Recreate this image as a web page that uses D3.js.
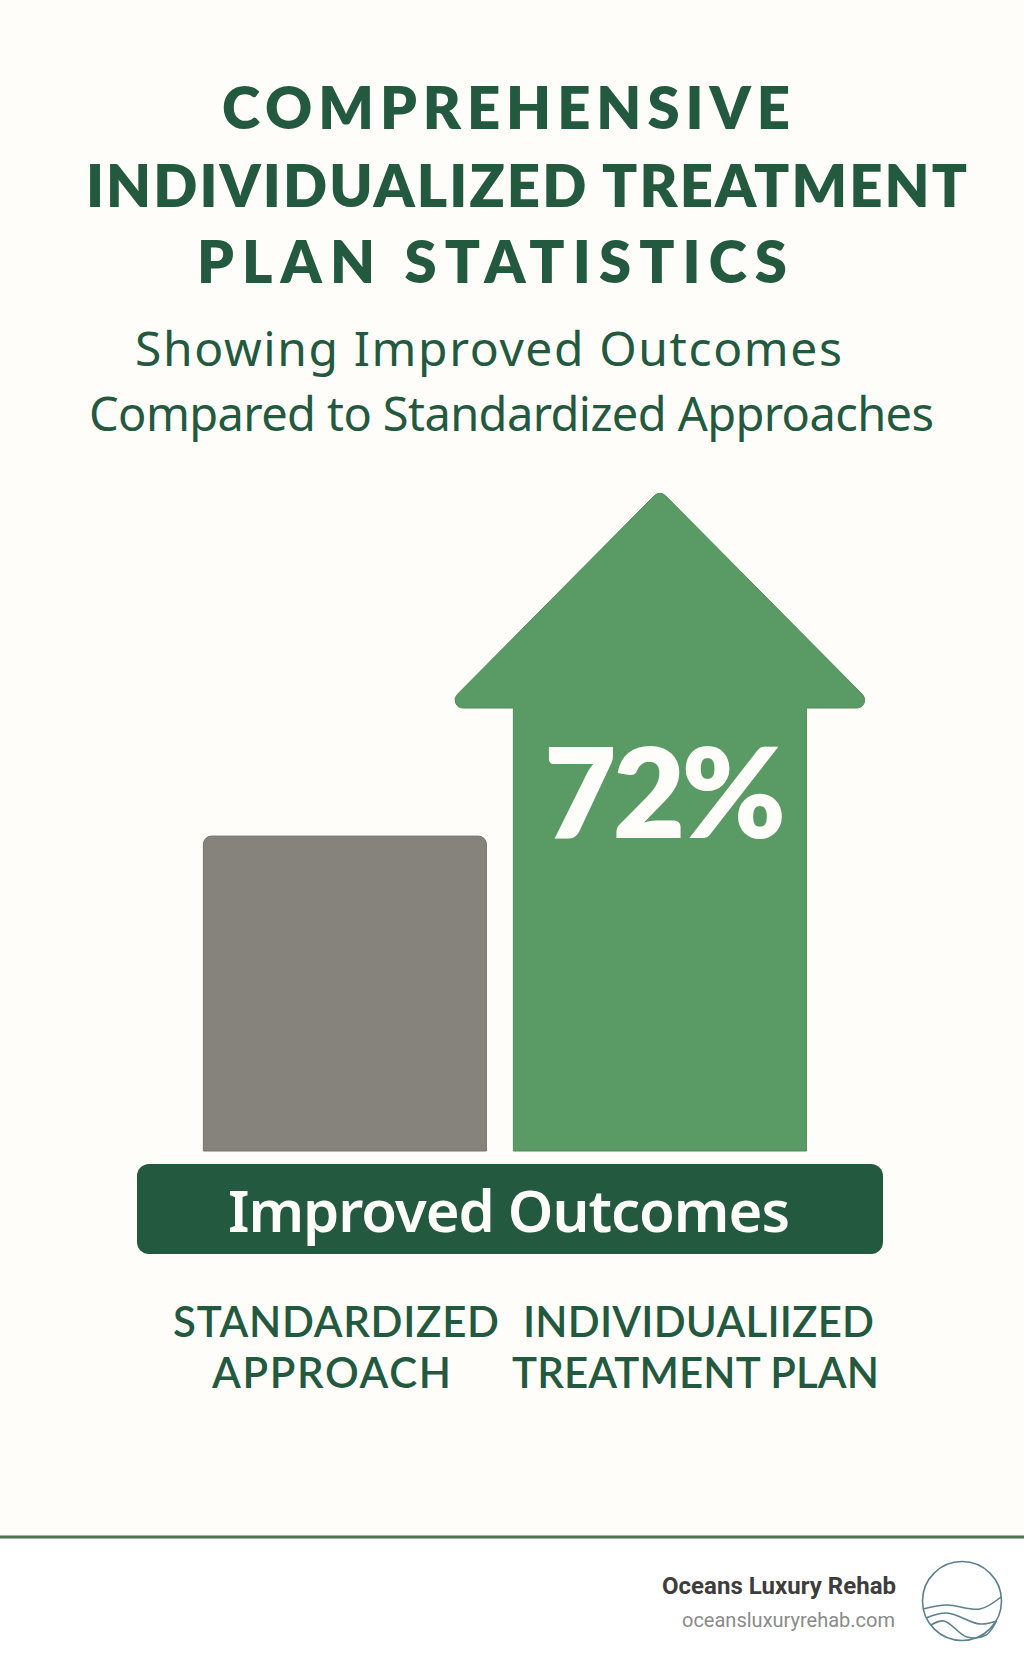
<!DOCTYPE html>
<html>
<head>
<meta charset="utf-8">
<script src="https://cdn.jsdelivr.net/npm/d3@7"></script>
<style>
  html, body { margin: 0; padding: 0; background: #fffdf9; }
  svg { display: block; }
</style>
</head>
<body>
<div id="viz"></div>
<script>
// Data
const categories = ['Standardized Approach', 'Individualized Treatment Plan'];
const outcomes = [34.3, 72];
const valueLabels = ['', '72%'];
const axisTitle = 'Improved Outcomes';
const titleLines = ['COMPREHENSIVE', 'INDIVIDUALIZED TREATMENT', 'PLAN STATISTICS'];
const subtitleLines = ['Showing Improved Outcomes', 'Compared to Standardized Approaches'];
const categoryLabels = [['STANDARDIZED', 'APPROACH'], ['INDIVIDUALIIZED', 'TREATMENT PLAN']];
const brandName = 'Oceans Luxury Rehab';
const brandUrl = 'oceansluxuryrehab.com';

const width = 1024;
const height = 1666;
const darkGreen = '#23593f';
const barColors = ['#86837c', '#5a9a64'];
const serif = 'Lato, sans-serif';

const svg = d3.select('#viz')
  .append('svg')
    .attr('viewBox', [0, 0, width, height])
    .attr('width', width)
    .attr('height', height);

svg.append('rect')
  .attr('width', width)
  .attr('height', height)
  .attr('fill', '#fffdf9');

// helper for text lines, the length is forced so that each line spans like the original
const addText = function (parent, str, x, y, len, size, weight, fill, family) {
  return parent.append('text')
    .attr('x', x)
    .attr('y', y)
    .attr('textLength', len)
    .attr('font-size', size)
    .attr('font-weight', weight)
    .attr('font-family', family)
    .attr('fill', fill)
    .text(str);
};

// Title
const titlePos = [[222, 129, 568], [86, 207, 881], [197, 283, 590]];
titleLines.forEach((line, i) => {
  addText(svg, line, titlePos[i][0], titlePos[i][1], titlePos[i][2], 58, 800, darkGreen, serif);
});

const subtitlePos = [[135, 366, 707, 48], [89, 431, 845, 47]];
subtitleLines.forEach((line, i) => {
  addText(svg, line, subtitlePos[i][0], subtitlePos[i][1], subtitlePos[i][2], subtitlePos[i][3], 400, darkGreen, '"Noto Sans", sans-serif');
});

// Scales
const xScale = d3.scaleBand()
  .domain(categories)
  .range([200, 804.8])
  .paddingInner(0.08)
  .paddingOuter(0);
const yScale = d3.scaleLinear()
  .domain([0, 72])
  .range([1151, 490]);

const barWidths = [283, 293];
const centre = d => xScale(d) + xScale.bandwidth() / 2;

// Standardized bar, only the top corners are rounded
const barPath = function (x0, x1, y0, y1, r) {
  const p = d3.path();
  p.moveTo(x0, y1);
  p.lineTo(x0, y0 + r);
  p.arcTo(x0, y0, x0 + r, y0, r);
  p.lineTo(x1 - r, y0);
  p.arcTo(x1, y0, x1, y0 + r, r);
  p.lineTo(x1, y1);
  p.closePath();
  return p.toString();
};

svg.append('path')
  .attr('d', barPath(
    centre(categories[0]) - barWidths[0] / 2,
    centre(categories[0]) + barWidths[0] / 2,
    yScale(outcomes[0]),
    yScale(0),
    8))
  .attr('fill', barColors[0])
  .attr('stroke', '#77746e')
  .attr('stroke-width', 1);

// Individualized bar is an arrow
const arrowPath = function (cx, halfShaft, halfHead, yTip, yHead, yBase, r) {
  const p = d3.path();
  p.moveTo(cx - halfShaft, yBase);
  p.lineTo(cx - halfShaft, yHead);
  p.arcTo(cx - halfHead, yHead, cx, yTip, r);
  p.arcTo(cx, yTip, cx + halfHead, yHead, r);
  p.arcTo(cx + halfHead, yHead, cx + halfShaft, yHead, r);
  p.lineTo(cx + halfShaft, yHead);
  p.lineTo(cx + halfShaft, yBase);
  p.closePath();
  return p.toString();
};

svg.append('path')
  .attr('d', arrowPath(centre(categories[1]), barWidths[1] / 2, 216, yScale(outcomes[1]), 708, yScale(0), 8))
  .attr('fill', barColors[1])
  .attr('stroke', '#4c8f58')
  .attr('stroke-width', 1);

addText(svg, valueLabels[1], 544, 838, 242, 125, 800, '#fffdf9', serif);

// Band under the bars
svg.append('rect')
  .attr('x', 137)
  .attr('y', 1164)
  .attr('width', 746)
  .attr('height', 90)
  .attr('rx', 12)
  .attr('fill', darkGreen);

addText(svg, axisTitle, 228, 1232, 562, 58, 600, '#fffdf9', '"Noto Sans", sans-serif');

// Category labels
const labelPos = [[[173, 1337, 326], [212, 1388, 239]], [[523, 1337, 351], [512, 1388, 367]]];
categoryLabels.forEach((lines, i) => {
  lines.forEach((line, j) => {
    addText(svg, line, labelPos[i][j][0], labelPos[i][j][1], labelPos[i][j][2], 42, 600, darkGreen, serif);
  });
});

// Footer
svg.append('rect')
  .attr('y', 1537)
  .attr('width', width)
  .attr('height', height - 1537)
  .attr('fill', '#ffffff');
svg.append('rect')
  .attr('y', 1535.5)
  .attr('width', width)
  .attr('height', 3)
  .attr('fill', '#4a7350');

addText(svg, brandName, 662, 1594, 234, 24, 700, '#3d3d3d', 'Roboto, sans-serif');
addText(svg, brandUrl, 682, 1627, 213, 20, 400, '#8a8a8a', 'Roboto, sans-serif');

// Logo
const logo = svg.append('g')
  .attr('fill', 'none')
  .attr('stroke', '#5b8090')
  .attr('stroke-width', 1.6);
logo.append('circle')
  .attr('cx', 962)
  .attr('cy', 1601)
  .attr('r', 39.5);
const wave = d3.line().curve(d3.curveCatmullRom);
[
  [[923, 1609], [947, 1605], [980, 1609], [1001, 1597]],
  [[926, 1618], [947, 1613], [980, 1624], [997, 1621]],
  [[931, 1625], [944, 1621], [967, 1637], [986, 1635], [996, 1622]]
].forEach(points => {
  logo.append('path').attr('d', wave(points));
});
</script>
</body>
</html>
